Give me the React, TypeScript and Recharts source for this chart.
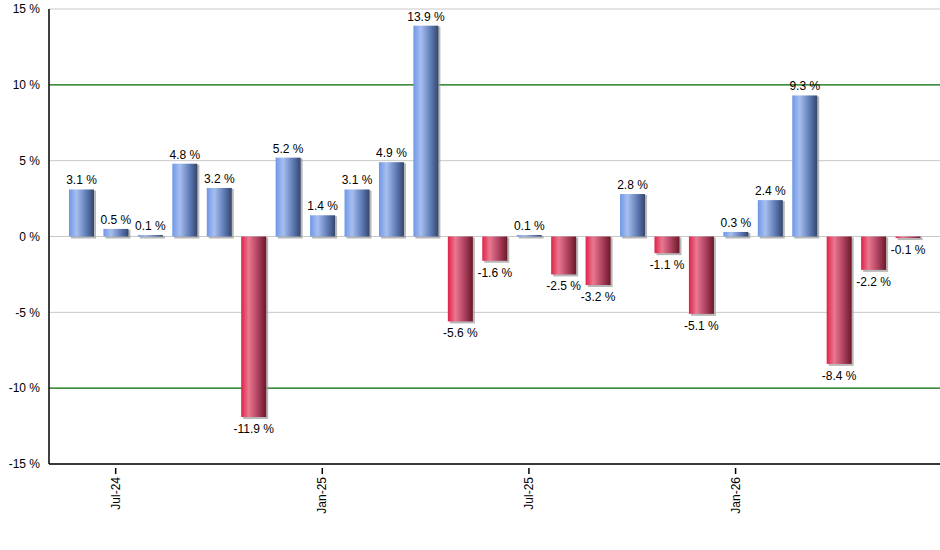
import { BarChart, Bar, XAxis, YAxis, CartesianGrid, LabelList } from 'recharts';

const MONTHS = [
    '2024-06', '2024-07', '2024-08', '2024-09', '2024-10', '2024-11', '2024-12',
    '2025-01', '2025-02', '2025-03', '2025-04', '2025-05', '2025-06', '2025-07',
    '2025-08', '2025-09', '2025-10', '2025-11', '2025-12', '2026-01', '2026-02',
    '2026-03', '2026-04', '2026-05', '2026-06',
];

const RETURNS = [
    3.1, 0.5, 0.1, 4.8, 3.2, -11.9, 5.2, 1.4, 3.1, 4.9, 13.9, -5.6, -1.6,
    0.1, -2.5, -3.2, 2.8, -1.1, -5.1, 0.3, 2.4, 9.3, -8.4, -2.2, -0.1,
];

const TICK_LABELS: Record<string, string> = {
    '2024-07': 'Jul-24',
    '2025-01': 'Jan-25',
    '2025-07': 'Jul-25',
    '2026-01': 'Jan-26',
};

const Y_TICKS = [-15, -10, -5, 0, 5, 10, 15];
const GRAY_LINES = [-15, -5, 0, 5, 15];
const LIMIT_LINES = [-10, 10];

const data = MONTHS.map((m, i) => ({ month: m, value: RETURNS[i] }));

const FONT = '"Liberation Sans", Arial, sans-serif';

const MonthTick = (props: any) => {
    const { x, y, payload } = props;
    const label = TICK_LABELS[payload.value];
    if (!label) return null;
    return (
        <g>
            <line x1={x} y1={y - 4} x2={x} y2={y + 2} stroke="#000" strokeWidth={1.5} />
            <text
                x={x}
                y={y + 5}
                dy={4}
                transform={`rotate(-90, ${x}, ${y + 5})`}
                textAnchor="end"
                fontSize={12}
                fontFamily={FONT}
                fill="#000"
            >
                {label}
            </text>
        </g>
    );
};

const GradientBar = (props: any) => {
    const { x, y, width, height, value } = props;
    const top = Math.min(y, y + height);
    const h = Math.abs(height);
    const fill = value >= 0 ? 'url(#gradPos)' : 'url(#gradNeg)';
    return (
        <g>
            <rect x={x + 2} y={top + 1} width={width} height={h + 1} fill="#9a9a9a" opacity={0.7} />
            <rect x={x} y={top} width={width} height={h} fill={fill} />
        </g>
    );
};

const ValueLabel = (props: any) => {
    const { x, y, width, height, value } = props;
    const top = Math.min(y, y + height);
    const bottom = Math.max(y, y + height);
    const ty = value >= 0 ? top - 5 : bottom + 16;
    return (
        <text x={x + width / 2} y={ty} textAnchor="middle" fontSize={12} fontFamily={FONT} fill="#000">
            {`${value.toFixed(1)} %`}
        </text>
    );
};

const App = () => {
    return (
        <div style={{ position: 'absolute', left: 0, top: 0, background: '#fff' }}>
            <BarChart
                width={940}
                height={550}
                data={data}
                margin={{ top: 9, right: 0, bottom: 0, left: 0 }}
                barSize={25}
            >
                <defs>
                    <linearGradient id="gradPos" x1="0" y1="0" x2="1" y2="0">
                        <stop offset="0%" stopColor="#6f97e6" />
                        <stop offset="30%" stopColor="#a7bff0" />
                        <stop offset="70%" stopColor="#5e7ab4" />
                        <stop offset="100%" stopColor="#34466c" />
                    </linearGradient>
                    <linearGradient id="gradNeg" x1="0" y1="0" x2="1" y2="0">
                        <stop offset="0%" stopColor="#de2248" />
                        <stop offset="30%" stopColor="#ea7890" />
                        <stop offset="65%" stopColor="#b04462" />
                        <stop offset="100%" stopColor="#6c1828" />
                    </linearGradient>
                </defs>
                <CartesianGrid vertical={false} stroke="#c8c8c8" horizontalValues={GRAY_LINES} />
                <CartesianGrid vertical={false} stroke="#006a00" strokeWidth={1.2} horizontalValues={LIMIT_LINES} />
                <XAxis
                    dataKey="month"
                    interval={0}
                    height={86}
                    padding={{ left: 15, right: 15 }}
                    axisLine={{ stroke: '#000', strokeWidth: 1.5 }}
                    tickLine={false}
                    tick={<MonthTick />}
                />
                <YAxis
                    domain={[-15, 15]}
                    ticks={Y_TICKS}
                    width={49}
                    axisLine={{ stroke: '#000', strokeWidth: 1.5 }}
                    tickLine={false}
                    tickMargin={3}
                    tickFormatter={(v: number) => `${v} %`}
                    tick={{ fontSize: 12, fontFamily: FONT, fill: '#000' }}
                />
                <Bar dataKey="value" shape={<GradientBar />} isAnimationActive={false}>
                    <LabelList dataKey="value" content={<ValueLabel />} />
                </Bar>
            </BarChart>
        </div>
    );
};

export default App;
